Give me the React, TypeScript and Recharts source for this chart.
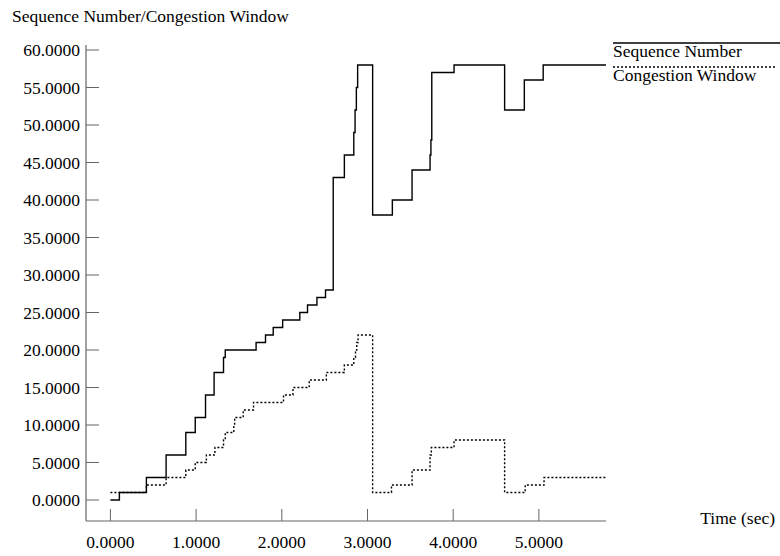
import React from "react";
import { LineChart, Line, XAxis, YAxis } from "recharts";

const seqTime = [0, 0.105, 0.42, 0.65, 0.88, 0.99, 1.11, 1.21, 1.32, 1.34, 1.7, 1.81, 1.9, 2.01, 2.21, 2.3, 2.41, 2.51, 2.6, 2.73, 2.84, 2.855, 2.87, 2.885, 3.06, 3.29, 3.52, 3.73, 3.74, 3.75, 4.01, 4.6, 4.83, 5.05, 5.8];
const seqValue = [0, 1, 3, 6, 9, 11, 14, 17, 19, 20, 21, 22, 23, 24, 25, 26, 27, 28, 43, 46, 49, 52, 55, 58, 38, 40, 44, 46, 48, 57, 58, 52, 56, 58, 58];

const cwndTime = [0, 0.42, 0.65, 0.88, 0.99, 1.12, 1.22, 1.32, 1.34, 1.44, 1.45, 1.55, 1.67, 2.02, 2.13, 2.32, 2.52, 2.73, 2.84, 2.86, 2.875, 2.89, 3.06, 3.28, 3.52, 3.73, 3.745, 4.01, 4.6, 4.84, 5.06, 5.8];
const cwndValue = [1, 2, 3, 4, 5, 6, 7, 8, 9, 10, 11, 12, 13, 14, 15, 16, 17, 18, 19, 20, 21, 22, 1, 2, 4, 6, 7, 8, 1, 2, 3, 3];

const xTicks = [0, 1, 2, 3, 4, 5];
const yTicks = [0, 5, 10, 15, 20, 25, 30, 35, 40, 45, 50, 55, 60];

const seqData = seqTime.map((t, i) => ({ t, v: seqValue[i] }));
const cwndData = cwndTime.map((t, i) => ({ t, v: cwndValue[i] }));

const FONT = "'Liberation Serif', 'Times New Roman', serif";
const FS = 17.5;
const FRAME = "#666";

const BottomTick = (p: any) => (
  <g>
    <line x1={p.x} y1={p.y} x2={p.x} y2={p.y - 12} stroke={FRAME} strokeWidth={1} />
    <text x={p.x} y={p.y + 27} textAnchor="middle" fontFamily={FONT} fontSize={FS} fill="#000">
      {Number(p.payload.value).toFixed(4)}
    </text>
  </g>
);
const TopTick = (p: any) => (
  <line x1={p.x} y1={p.y} x2={p.x} y2={p.y + 12} stroke={FRAME} strokeWidth={1} />
);
const LeftTick = (p: any) => (
  <g>
    <line x1={p.x} y1={p.y} x2={p.x + 13} y2={p.y} stroke={FRAME} strokeWidth={1} />
    <text x={p.x - 6} y={p.y + 6} textAnchor="end" fontFamily={FONT} fontSize={FS} fill="#000">
      {Number(p.payload.value).toFixed(4)}
    </text>
  </g>
);
const RightTick = (p: any) => (
  <line x1={p.x} y1={p.y} x2={p.x - 13} y2={p.y} stroke={FRAME} strokeWidth={1} />
);

const X_DOMAIN: [number, number] = [-0.2847, 5.783];
const Y_DOMAIN: [number, number] = [-2.8, 60.667];

export default function App() {
  return (
    <div style={{ position: "absolute", left: 0, top: 0, width: 780, height: 556, background: "#fff" }}>
      <LineChart width={780} height={556} margin={{ top: 45, right: 174, bottom: 0, left: 0 }}>
        <XAxis
          xAxisId="bottom"
          dataKey="t"
          type="number"
          domain={X_DOMAIN}
          allowDataOverflow
          ticks={xTicks}
          height={35}
          tickSize={0}
          tickMargin={0}
          tickLine={false}
          axisLine={{ stroke: FRAME, strokeWidth: 1.2 }}
          tick={<BottomTick />}
          interval={0}
        />
        <XAxis
          xAxisId="top"
          orientation="top"
          dataKey="t"
          type="number"
          domain={X_DOMAIN}
          allowDataOverflow
          ticks={xTicks}
          height={0}
          tickSize={0}
          tickMargin={0}
          tickLine={false}
          axisLine={{ stroke: FRAME, strokeWidth: 1.2 }}
          tick={<TopTick />}
          interval={0}
        />
        <YAxis
          yAxisId="left"
          type="number"
          domain={Y_DOMAIN}
          allowDataOverflow
          ticks={yTicks}
          width={86}
          tickSize={0}
          tickMargin={0}
          tickLine={false}
          axisLine={{ stroke: FRAME, strokeWidth: 1.2 }}
          tick={<LeftTick />}
          interval={0}
        />
        <YAxis
          yAxisId="right"
          orientation="right"
          type="number"
          domain={Y_DOMAIN}
          allowDataOverflow
          ticks={yTicks}
          width={0}
          tickSize={0}
          tickMargin={0}
          tickLine={false}
          axisLine={{ stroke: FRAME, strokeWidth: 1.2 }}
          tick={<RightTick />}
          interval={0}
        />
        <Line
          xAxisId="bottom"
          yAxisId="left"
          data={seqData}
          dataKey="v"
          type="stepAfter"
          stroke="#000"
          strokeWidth={1.4}
          dot={false}
          isAnimationActive={false}
          name="Sequence Number"
        />
        <Line
          xAxisId="top"
          yAxisId="right"
          data={cwndData}
          dataKey="v"
          type="stepAfter"
          stroke="#000"
          strokeWidth={1.4}
          strokeDasharray="2 2"
          dot={false}
          isAnimationActive={false}
          name="Congestion Window"
        />
      </LineChart>
      <svg
        width={780}
        height={556}
        style={{ position: "absolute", left: 0, top: 0, pointerEvents: "none" }}
      >
        <text x={12} y={22} fontFamily={FONT} fontSize={FS} fill="#000">
          Sequence Number/Congestion Window
        </text>
        <line x1={613} y1={43} x2={780} y2={43} stroke="#000" strokeWidth={1.3} />
        <text x={613} y={57} fontFamily={FONT} fontSize={FS} fill="#000">
          Sequence Number
        </text>
        <line x1={613} y1={67} x2={777} y2={67} stroke="#000" strokeWidth={1.3} strokeDasharray="2 2" />
        <text x={613} y={81} fontFamily={FONT} fontSize={FS} fill="#000">
          Congestion Window
        </text>
        <text x={775} y={524} textAnchor="end" fontFamily={FONT} fontSize={FS} fill="#000">
          Time (sec)
        </text>
      </svg>
    </div>
  );
}
